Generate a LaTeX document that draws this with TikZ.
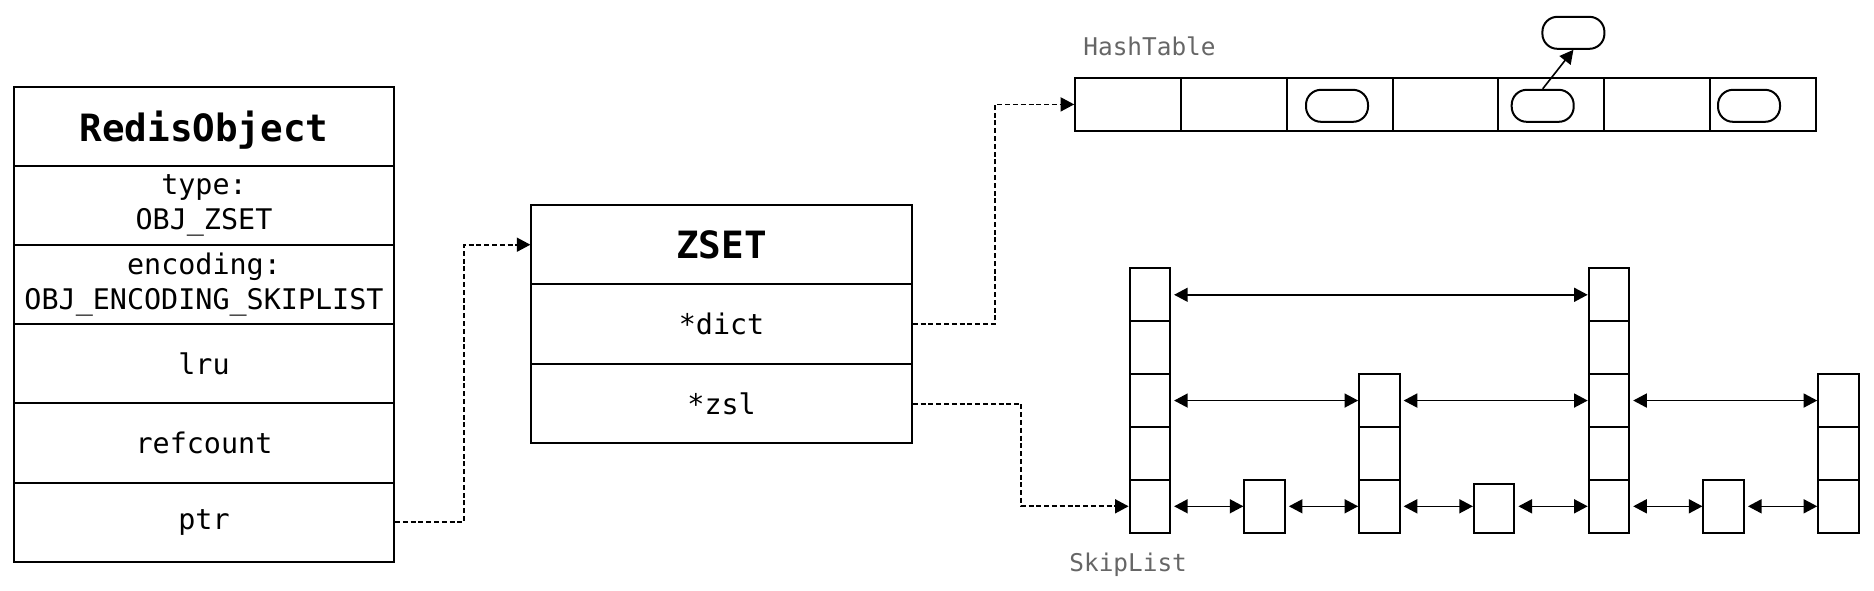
\documentclass[tikz,border=0pt]{standalone}
\usepackage{fontspec}
\setmonofont{DejaVu Sans Mono}
\usetikzlibrary{arrows.meta}
\definecolor{labelgray}{HTML}{666666}
\tikzset{
 box/.style={draw, line width=1pt, inner sep=0pt, align=center, font=\ttfamily\fontsize{14.2}{17.5}\selectfont},
 orow/.style={box, minimum width=190pt, minimum height=39.58pt},
 zrow/.style={box, minimum width=190.2pt, minimum height=39.7pt},
 titletext/.style={font=\ttfamily\bfseries\fontsize{18.8}{22}\selectfont},
 hcell/.style={draw, line width=1pt, minimum width=52.9pt, minimum height=26.65pt, inner sep=0pt},
 oval/.style={draw, line width=1pt, rounded corners=7.5pt, minimum width=31pt, minimum height=16pt, inner sep=0pt},
 scell/.style={draw, line width=1pt, minimum width=20.25pt, minimum height=26.44pt, inner sep=0pt},
 lbl/.style={font=\ttfamily\fontsize{12.2}{14}\selectfont, text=labelgray, inner sep=0pt, anchor=base west},
 tip/.tip={Triangle[length=6.8pt,width=7pt]},
 ptrline/.style={dash pattern=on 2.5pt off 1.4pt, line width=0.9pt, -tip},
 link/.style={line width=0.8pt, tip-tip, shorten <=1.5pt},
 onearrow/.style={line width=0.8pt, -tip},
}
\begin{document}
\begin{tikzpicture}[x=0.5pt,y=-0.5pt]
\useasboundingbox (0,0) rectangle (1874,590);

% RedisObject
\node[orow, titletext, text depth=0pt] (o0) at (204,126.3) {RedisObject};
\node[orow] (o1) at (204,205.5) {type:\\OBJ\_ZSET};
\node[orow] (o2) at (204,284.6) {encoding:\\OBJ\_ENCODING\_SKIPLIST};
\node[orow] (o3) at (204,363.8) {lru};
\node[orow] (o4) at (204,443) {refcount};
\node[orow] (o5) at (204,522.1) {ptr};

% ZSET
\node[zrow, titletext] (z0) at (721.6,244.7) {ZSET};
\node[zrow] (z1) at (721.6,324.1) {*dict};
\node[zrow] (z2) at (721.6,403.6) {*zsl};

% HashTable
\node[lbl] (htl) at (1083,55) {HashTable};
\foreach \i in {0,...,6} {
  \node[hcell] (h\i) at ({1128.1+105.8*\i},104.4) {};
}
\node[oval] (hb2) at (1337,105.8) {};
\node[oval] (hb4) at (1542.7,105.8) {};
\node[oval] (hb6) at (1749,105.8) {};
\node[oval] (hx) at (1573.4,32.8) {};
\draw[onearrow] (hb4.north) -- (hx.south);

% SkipList
\node[lbl] (sll) at (1069,571.7) {SkipList};
\foreach \c/\n in {0/4,2/2,4/4,6/2} {
  \foreach \r in {0,...,\n} {
    \node[scell] (s\c r\r) at ({1149.85+114.77*\c},{506.3-52.88*\r}) {};
  }
}
\node[scell] (n1) at ({1149.85+114.77*1},506.3) {};
\node[scell, minimum height=24.2pt] (n3) at ({1149.85+114.77*3},508.5) {};
\node[scell] (n5) at ({1149.85+114.77*5},506.3) {};

\draw[link] (s0r4.east) -- (s4r4.west);
\draw[link] (s0r2.east) -- (s2r2.west);
\draw[link] (s2r2.east) -- (s4r2.west);
\draw[link] (s4r2.east) -- (s6r2.west);
\draw[link] (s0r0.east) -- (n1.west);
\draw[link] (n1.east) -- (s2r0.west);
\draw[link] (s2r0.east) -- (s2r0.east -| n3.west);
\draw[link] (n3.east |- s4r0.west) -- (s4r0.west);
\draw[link] (s4r0.east) -- (n5.west);
\draw[link] (n5.east) -- (s6r0.west);

% pointers
\draw[ptrline] (o5.east) -- ++(69,0) |- (z0.west);
\draw[ptrline] (z1.east) -- ++(82,0) |- (h0.west);
\draw[ptrline] (z2.east) -- ++(108.5,0) |- (s0r0.west);
\end{tikzpicture}
\end{document}
